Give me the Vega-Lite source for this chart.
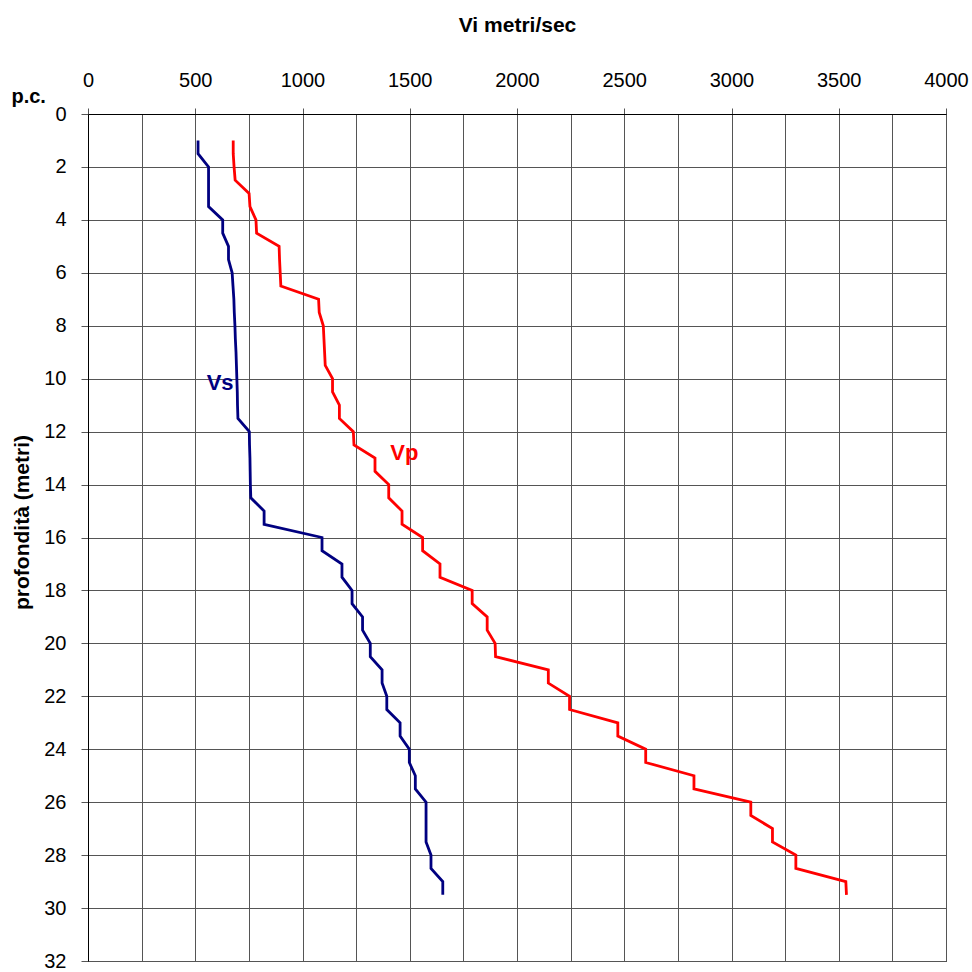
{
  "$schema": "https://vega.github.io/schema/vega-lite/v6.json",
  "autosize": "none",
  "width": 858,
  "height": 847,
  "padding": {"left": 88, "top": 114, "right": 26, "bottom": 11},
  "background": "white",
  "config": {
    "font": "Liberation Sans",
    "view": {"stroke": "#000", "strokeWidth": 1},
    "axis": {
      "gridColor": "#555",
      "gridOpacity": 1,
      "gridWidth": 1,
      "domainColor": "#000",
      "tickColor": "#555",
      "labelFont": "Liberation Sans",
      "labelFontSize": 20,
      "labelColor": "#000",
      "titleFont": "Liberation Sans",
      "titleFontSize": 21,
      "titleFontWeight": "bold",
      "titleColor": "#000"
    }
  },
  "datasets": {
    "profiles": [
      {"serie": "Vp", "prof": 1.0, "v": 677}, {"serie": "Vp", "prof": 1.5, "v": 677},
      {"serie": "Vp", "prof": 2.0, "v": 681}, {"serie": "Vp", "prof": 2.5, "v": 686},
      {"serie": "Vp", "prof": 3.0, "v": 751}, {"serie": "Vp", "prof": 3.5, "v": 755},
      {"serie": "Vp", "prof": 4.0, "v": 783}, {"serie": "Vp", "prof": 4.5, "v": 786},
      {"serie": "Vp", "prof": 5.0, "v": 891}, {"serie": "Vp", "prof": 5.5, "v": 893},
      {"serie": "Vp", "prof": 6.0, "v": 896}, {"serie": "Vp", "prof": 6.5, "v": 899},
      {"serie": "Vp", "prof": 7.0, "v": 1075}, {"serie": "Vp", "prof": 7.5, "v": 1078},
      {"serie": "Vp", "prof": 8.0, "v": 1097}, {"serie": "Vp", "prof": 8.5, "v": 1100},
      {"serie": "Vp", "prof": 9.0, "v": 1103}, {"serie": "Vp", "prof": 9.5, "v": 1106},
      {"serie": "Vp", "prof": 10.0, "v": 1140}, {"serie": "Vp", "prof": 10.5, "v": 1140},
      {"serie": "Vp", "prof": 11.0, "v": 1172}, {"serie": "Vp", "prof": 11.5, "v": 1172},
      {"serie": "Vp", "prof": 12.0, "v": 1237}, {"serie": "Vp", "prof": 12.5, "v": 1240},
      {"serie": "Vp", "prof": 13.0, "v": 1338}, {"serie": "Vp", "prof": 13.5, "v": 1338},
      {"serie": "Vp", "prof": 14.0, "v": 1402}, {"serie": "Vp", "prof": 14.5, "v": 1402},
      {"serie": "Vp", "prof": 15.0, "v": 1464}, {"serie": "Vp", "prof": 15.5, "v": 1464},
      {"serie": "Vp", "prof": 16.0, "v": 1560}, {"serie": "Vp", "prof": 16.5, "v": 1560},
      {"serie": "Vp", "prof": 17.0, "v": 1641}, {"serie": "Vp", "prof": 17.5, "v": 1641},
      {"serie": "Vp", "prof": 18.0, "v": 1791}, {"serie": "Vp", "prof": 18.5, "v": 1791},
      {"serie": "Vp", "prof": 19.0, "v": 1861}, {"serie": "Vp", "prof": 19.5, "v": 1861},
      {"serie": "Vp", "prof": 20.0, "v": 1898}, {"serie": "Vp", "prof": 20.5, "v": 1900},
      {"serie": "Vp", "prof": 21.0, "v": 2146}, {"serie": "Vp", "prof": 21.5, "v": 2146},
      {"serie": "Vp", "prof": 22.0, "v": 2245}, {"serie": "Vp", "prof": 22.5, "v": 2245},
      {"serie": "Vp", "prof": 23.0, "v": 2470}, {"serie": "Vp", "prof": 23.5, "v": 2470},
      {"serie": "Vp", "prof": 24.0, "v": 2600}, {"serie": "Vp", "prof": 24.5, "v": 2600},
      {"serie": "Vp", "prof": 25.0, "v": 2825}, {"serie": "Vp", "prof": 25.5, "v": 2825},
      {"serie": "Vp", "prof": 26.0, "v": 3090}, {"serie": "Vp", "prof": 26.5, "v": 3090},
      {"serie": "Vp", "prof": 27.0, "v": 3191}, {"serie": "Vp", "prof": 27.5, "v": 3191},
      {"serie": "Vp", "prof": 28.0, "v": 3300}, {"serie": "Vp", "prof": 28.5, "v": 3300},
      {"serie": "Vp", "prof": 29.0, "v": 3533}, {"serie": "Vp", "prof": 29.5, "v": 3536},
      {"serie": "Vs", "prof": 1.0, "v": 513}, {"serie": "Vs", "prof": 1.5, "v": 513},
      {"serie": "Vs", "prof": 2.0, "v": 562}, {"serie": "Vs", "prof": 2.5, "v": 562},
      {"serie": "Vs", "prof": 3.0, "v": 562}, {"serie": "Vs", "prof": 3.5, "v": 562},
      {"serie": "Vs", "prof": 4.0, "v": 628}, {"serie": "Vs", "prof": 4.5, "v": 628},
      {"serie": "Vs", "prof": 5.0, "v": 655}, {"serie": "Vs", "prof": 5.5, "v": 655},
      {"serie": "Vs", "prof": 6.0, "v": 672}, {"serie": "Vs", "prof": 6.5, "v": 676},
      {"serie": "Vs", "prof": 7.0, "v": 680}, {"serie": "Vs", "prof": 7.5, "v": 682},
      {"serie": "Vs", "prof": 8.0, "v": 685}, {"serie": "Vs", "prof": 8.5, "v": 687},
      {"serie": "Vs", "prof": 9.0, "v": 690}, {"serie": "Vs", "prof": 9.5, "v": 692},
      {"serie": "Vs", "prof": 10.0, "v": 694}, {"serie": "Vs", "prof": 10.5, "v": 696},
      {"serie": "Vs", "prof": 11.0, "v": 697}, {"serie": "Vs", "prof": 11.5, "v": 699},
      {"serie": "Vs", "prof": 12.0, "v": 752}, {"serie": "Vs", "prof": 12.5, "v": 753},
      {"serie": "Vs", "prof": 13.0, "v": 755}, {"serie": "Vs", "prof": 13.5, "v": 756},
      {"serie": "Vs", "prof": 14.0, "v": 757}, {"serie": "Vs", "prof": 14.5, "v": 759},
      {"serie": "Vs", "prof": 15.0, "v": 821}, {"serie": "Vs", "prof": 15.5, "v": 821},
      {"serie": "Vs", "prof": 16.0, "v": 1091}, {"serie": "Vs", "prof": 16.5, "v": 1091},
      {"serie": "Vs", "prof": 17.0, "v": 1184}, {"serie": "Vs", "prof": 17.5, "v": 1184},
      {"serie": "Vs", "prof": 18.0, "v": 1231}, {"serie": "Vs", "prof": 18.5, "v": 1231},
      {"serie": "Vs", "prof": 19.0, "v": 1280}, {"serie": "Vs", "prof": 19.5, "v": 1280},
      {"serie": "Vs", "prof": 20.0, "v": 1316}, {"serie": "Vs", "prof": 20.5, "v": 1316},
      {"serie": "Vs", "prof": 21.0, "v": 1371}, {"serie": "Vs", "prof": 21.5, "v": 1371},
      {"serie": "Vs", "prof": 22.0, "v": 1393}, {"serie": "Vs", "prof": 22.5, "v": 1393},
      {"serie": "Vs", "prof": 23.0, "v": 1455}, {"serie": "Vs", "prof": 23.5, "v": 1455},
      {"serie": "Vs", "prof": 24.0, "v": 1498}, {"serie": "Vs", "prof": 24.5, "v": 1498},
      {"serie": "Vs", "prof": 25.0, "v": 1526}, {"serie": "Vs", "prof": 25.5, "v": 1526},
      {"serie": "Vs", "prof": 26.0, "v": 1576}, {"serie": "Vs", "prof": 26.5, "v": 1576},
      {"serie": "Vs", "prof": 27.0, "v": 1576}, {"serie": "Vs", "prof": 27.5, "v": 1576},
      {"serie": "Vs", "prof": 28.0, "v": 1599}, {"serie": "Vs", "prof": 28.5, "v": 1599},
      {"serie": "Vs", "prof": 29.0, "v": 1654}, {"serie": "Vs", "prof": 29.5, "v": 1654}
    ],
    "labels": [
      {"serie": "Vs", "testo": "Vs", "prof": 10.15, "v": 616},
      {"serie": "Vp", "testo": "Vp", "prof": 12.8, "v": 1475}
    ],
    "pc": [
      {"testo": "p.c.", "prof": -0.65, "v": -357}
    ]
  },
  "layer": [
    {
      "data": {"name": "profiles"},
      "mark": {"type": "line", "strokeWidth": 2.8, "clip": false},
      "encoding": {
        "x": {
          "field": "v", "type": "quantitative",
          "scale": {"domain": [0, 4000], "nice": false, "zero": false},
          "axis": {
            "orient": "top",
            "title": "Vi metri/sec",
            "values": [0, 250, 500, 750, 1000, 1250, 1500, 1750, 2000, 2250, 2500, 2750, 3000, 3250, 3500, 3750, 4000],
            "format": "d",
            "labelExpr": "datum.value % 500 === 0 ? datum.label : ''",
            "tickOpacity": {"condition": {"test": "datum.value % 500 === 0", "value": 1}, "value": 0},
            "tickSize": 6,
            "labelPadding": 18,
            "titlePadding": 35,
            "labelFlush": false
          }
        },
        "y": {
          "field": "prof", "type": "quantitative",
          "scale": {"domain": [0, 32], "nice": false, "reverse": true, "zero": false},
          "axis": {
            "title": "profondità (metri)",
            "values": [0, 1, 2, 3, 4, 5, 6, 7, 8, 9, 10, 11, 12, 13, 14, 15, 16, 17, 18, 19, 20, 21, 22, 23, 24, 25, 26, 27, 28, 29, 30, 31, 32],
            "labelExpr": "datum.value % 2 === 0 ? datum.label : ''",
            "tickOpacity": {"condition": {"test": "datum.value % 2 === 0", "value": 1}, "value": 0},
            "tickSize": 7,
            "labelPadding": 15,
            "titlePadding": 11,
            "titleY": 408,
            "labelFlush": false
          }
        },
        "color": {
          "field": "serie", "type": "nominal",
          "scale": {"domain": ["Vs", "Vp"], "range": ["#000080", "#FF0000"]},
          "legend": null
        },
        "order": {"field": "prof", "type": "quantitative"}
      }
    },
    {
      "data": {"name": "labels"},
      "mark": {"type": "text", "fontSize": 22, "fontWeight": "bold", "font": "Liberation Sans", "align": "center", "baseline": "middle"},
      "encoding": {
        "x": {"field": "v", "type": "quantitative"},
        "y": {"field": "prof", "type": "quantitative"},
        "text": {"field": "testo"},
        "color": {"field": "serie", "type": "nominal", "legend": null}
      }
    },
    {
      "data": {"name": "pc"},
      "mark": {"type": "text", "fontSize": 20, "fontWeight": "bold", "font": "Liberation Sans", "align": "left", "baseline": "middle", "color": "#000"},
      "encoding": {
        "x": {"field": "v", "type": "quantitative"},
        "y": {"field": "prof", "type": "quantitative"},
        "text": {"field": "testo"}
      }
    }
  ]
}
